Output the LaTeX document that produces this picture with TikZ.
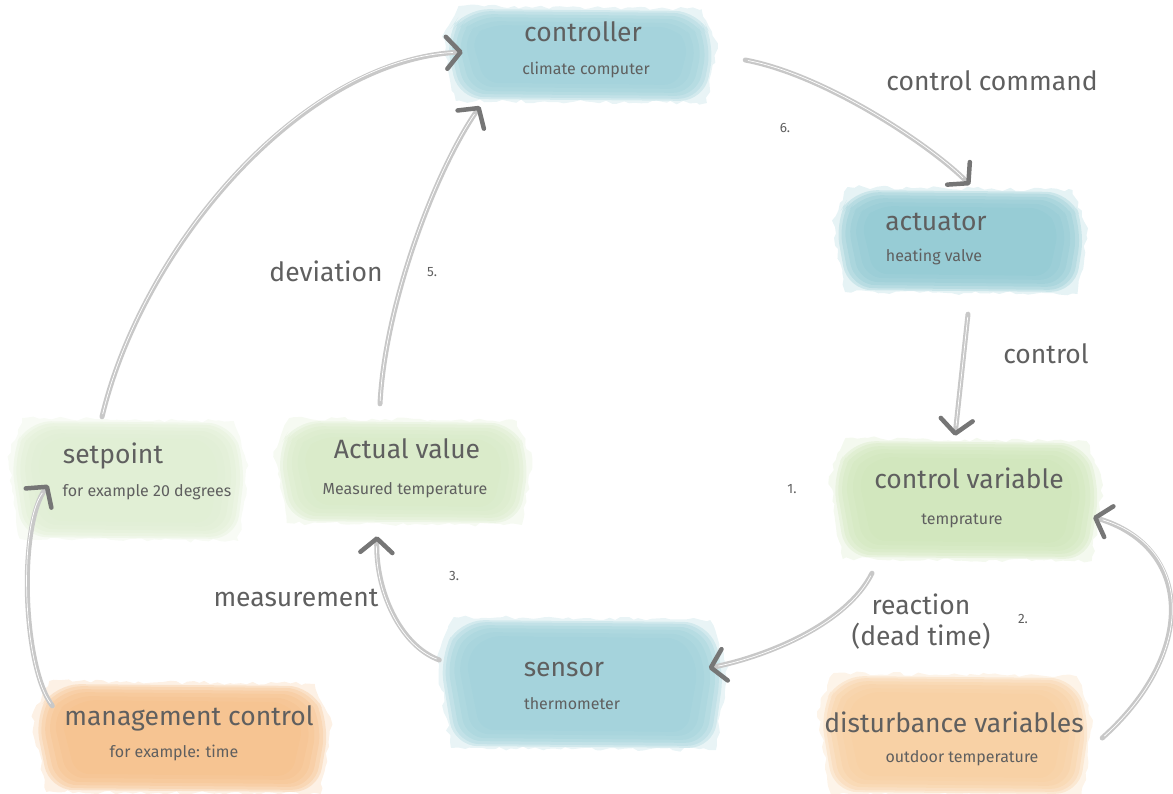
\documentclass[tikz,border=0pt]{standalone}
\usepackage{fontspec}
\setmainfont{Fira Sans}
\usetikzlibrary{arrows.meta,decorations.pathmorphing}
\definecolor{txt}{RGB}{95,95,95}
\definecolor{shaft}{RGB}{200,200,200}
\definecolor{headc}{RGB}{118,118,118}
\definecolor{bluea}{RGB}{156,207,216}
\definecolor{blueb}{RGB}{141,199,209}
\definecolor{greena}{RGB}{206,229,184}
\definecolor{greenb}{RGB}{214,233,197}
\definecolor{greenc}{RGB}{222,237,209}
\definecolor{orangea}{RGB}{245,190,135}
\definecolor{orangeb}{RGB}{247,204,156}
\tikzset{
  blobnode/.style={draw=none, inner sep=0pt, shape=rectangle},
  fringe/.style={fill=#1, fill opacity=0.22, decorate,
    decoration={random steps, segment length=6pt, amplitude=2pt}},
  title/.style={font=\fontsize{26.5}{30}\selectfont, text=txt, anchor=base, inner sep=0pt},
  subt/.style={font=\fontsize{16}{18}\selectfont, text=txt, anchor=base, inner sep=0pt},
  lab/.style={font=\fontsize{26.5}{30}\selectfont, text=txt, anchor=base, inner sep=0pt},
  num/.style={font=\fontsize{13.5}{15}\selectfont, text=txt, anchor=center, inner sep=0pt},
  flow/.style={draw=shaft, line width=5pt, line cap=round,
    -{Straight Barb[length=14pt, width=32pt, line width=4.5pt, round, color=headc]},
    postaction={draw=white, line width=0.7pt, arrows=-, shorten >=10pt, shorten <=3pt}}
}
\newcommand\wcblob[6]{%
  \path[fringe=#6] (#2-#4/2-3, #3-#5/5)
      -- (#2-#4/2+#4*0.05, #3-#5/2-3)
      -- (#2+#4/2-#4*0.05, #3-#5/2)
      -- (#2+#4/2+3, #3-#5/8)
      -- (#2+#4/2-#4*0.03, #3+#5/2+2)
      -- (#2-#4/2+#4*0.04, #3+#5/2)
      -- cycle;
  \foreach \dx/\dy/\rr in {0/0/24, 3/2/23, 7/5/21, 12/8/19, 18/12/17, 26/16/14} {
    \fill[#6, fill opacity=0.3, rounded corners=\rr pt]
      (#2-#4/2+\dx, #3-#5/5)
      -- (#2-#4/2+\dx+#4*0.07, #3-#5/2+\dy)
      -- (#2+#4/2-\dx-#4*0.06, #3-#5/2+\dy+2)
      -- (#2+#4/2-\dx, #3-#5/8)
      -- (#2+#4/2-\dx-#4*0.04, #3+#5/2-\dy)
      -- (#2-#4/2+\dx+#4*0.05, #3+#5/2-\dy-2)
      -- cycle;
  }
  \node[blobnode, minimum width=#4pt, minimum height=#5pt] (#1) at (#2,#3) {};
}
\begin{document}
\begin{tikzpicture}[x=1pt, y=-1pt]
\pgfmathsetseed{11}
\useasboundingbox (0,0) rectangle (1173,793);

% watercolour washes
\wcblob{ctrl}{580}{55}{270}{92}{bluea}
\wcblob{act}{960}{241}{250}{102}{blueb}
\wcblob{cv}{966}{500}{268}{118}{greena}
\wcblob{sp}{128}{480}{235}{118}{greenc}
\wcblob{av}{403}{472}{253}{102}{greenb}
\wcblob{sen}{582}{684}{285}{128}{bluea}
\wcblob{mc}{182}{738}{295}{108}{orangea}
\wcblob{dv}{955}{735}{270}{118}{orangeb}

% texts in the washes
\node[title] (ctrlT) at (583,41) {controller};
\node[subt]  (ctrlS) at (586,74) {climate computer};
\node[title] (actT) at (936,230) {actuator};
\node[subt]  (actS) at (934,261) {heating valve};
\node[title] (cvT) at (969,488) {control variable};
\node[subt]  (cvS) at (962,524) {temprature};
\node[title] (spT) at (113,463) {setpoint};
\node[subt]  (spS) at (147,496) {for example 20 degrees};
\node[title] (avT) at (407,458) {Actual value};
\node[subt]  (avS) at (405,494) {Measured temperature};
\node[title] (senT) at (564,676) {sensor};
\node[subt]  (senS) at (572,709) {thermometer};
\node[title] (mcT) at (189,725) {management control};
\node[subt]  (mcS) at (174,757) {for example: time};
\node[title] (dvT) at (954,732) {disturbance variables};
\node[subt]  (dvS) at (962,762) {outdoor temperature};

% connector labels
\node[lab] (lcc) at (992,90) {control command};
\node[num] (n6) at (785,128) {6.};
\node[lab] (lctl) at (1046,363) {control};
\node[lab] (ldev) at (326,281) {deviation};
\node[num] (n5) at (432,272) {5.};
\node[num] (n1) at (792,489) {1.};
\node[lab] (lre1) at (921,614) {reaction};
\node[lab] (lre2) at (921,645) {(dead time)};
\node[num] (n2) at (1023,619) {2.};
\node[lab] (lmeas) at (296,606) {measurement};
\node[num] (n3) at (454,576) {3.};

% connectors
\draw[flow] ([xshift=-26pt,yshift=4pt]sp.north) .. controls +(40,-168) and +(-163,8) .. ([xshift=18pt,yshift=3pt]ctrl.west);
\draw[flow] ([xshift=-23pt,yshift=17pt]av.north) .. controls +(5,-100) and +(-45,65) .. ([xshift=-100pt,yshift=-5pt]ctrl.south);
\draw[flow] ([xshift=30pt,yshift=-5pt]ctrl.east) .. controls +(80,15) and +(-40,-40) .. ([xshift=10pt,yshift=5pt]act.north);
\draw[flow] ([xshift=8pt,yshift=-22pt]act.south) -- ([xshift=-11pt,yshift=5pt]cv.north);
\draw[flow] ([xshift=-94pt,yshift=-14pt]cv.south) .. controls +(-25,50) and +(60,-12) .. ([xshift=-16pt,yshift=16pt]sen.east);
\draw[flow] ([yshift=24pt]sen.west) .. controls +(-40,-15) and +(-2,53) .. ([xshift=-26pt,yshift=-13pt]av.south);
\draw[flow] ([xshift=18pt,yshift=-22pt]mc.north west) .. controls +(-30,-40) and +(-30,40) .. ([xshift=38pt,yshift=-5pt]sp.west);
\draw[flow] ([xshift=12pt,yshift=-3pt]dv.east) .. controls +(95,-85) and +(100,30) .. ([xshift=-7pt,yshift=-17pt]cv.east);
\end{tikzpicture}
\end{document}
